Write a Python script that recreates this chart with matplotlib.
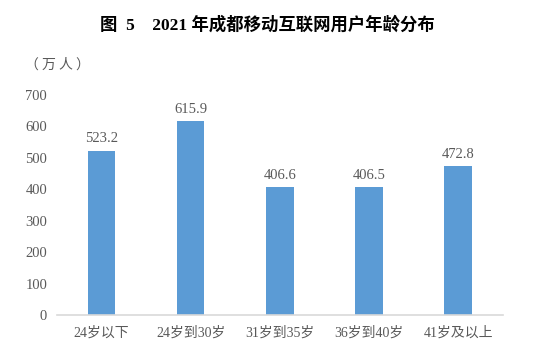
import matplotlib
matplotlib.use('Agg')
from matplotlib import pyplot as plt
import numpy as np

# data
categories = ['24岁以下', '24岁到30岁', '31岁到35岁', '36岁到40岁', '41岁及以上']
users = [523.2, 615.9, 406.6, 406.5, 472.8]
yticks = [0, 100, 200, 300, 400, 500, 600, 700]

serif = ['Liberation Serif', 'Noto Sans CJK SC']
grey = '#595959'

fig = plt.figure(figsize=(5.58, 3.61), dpi=100)
ax = fig.add_axes([0.102, 0.127, 0.799, 0.61])

x = np.arange(len(categories))
ax.bar(x, users, width=0.31, color='#5B9BD5', zorder=2)
for xi, v in zip(x, users):
    ax.text(xi, v + 18, f'{v:.1f}', ha='center', va='bottom', fontsize=10.5,
            color=grey, family=serif)

ax.set_xlim(-0.5, len(categories) - 0.5)
ax.set_ylim(0, 700)
ax.set_yticks(yticks)
ax.set_xticks(x)
ax.set_xticklabels(categories)
for lbl in ax.get_yticklabels():
    lbl.set_family(serif)
    lbl.set_fontsize(10.5)
    lbl.set_color(grey)
for lbl in ax.get_xticklabels():
    lbl.set_family(serif)
    lbl.set_fontsize(10)
    lbl.set_color(grey)

for s in ['top', 'right', 'left']:
    ax.spines[s].set_visible(False)
ax.spines['bottom'].set_color('#D9D9D9')
ax.spines['bottom'].set_linewidth(1.2)
ax.tick_params(axis='both', length=0)
ax.tick_params(axis='y', pad=7)
ax.tick_params(axis='x', pad=8)

fig.text(0.48, 0.93, '图  5    2021 年成都移动互联网用户年龄分布', ha='center', va='center',
         fontsize=12.5, fontweight='bold', family=serif)
fig.text(0.045, 0.82, '（ 万 人 ）', ha='left', va='center', fontsize=10,
         color=grey, family=['Noto Sans CJK SC'])

fig.savefig('out.png', dpi=100)
